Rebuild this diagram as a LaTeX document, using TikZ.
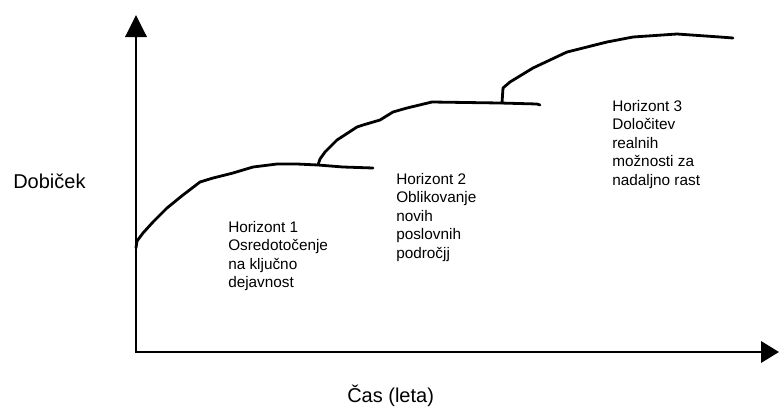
\documentclass[tikz,border=0pt]{standalone}
\usepackage{fontspec}
\setmainfont{Liberation Sans}
\usetikzlibrary{arrows.meta}
\begin{document}
\begin{tikzpicture}[x=0.75pt,y=-0.75pt,
  axis/.style={line width=1.9pt},
  growth/.style={line width=2.1pt,line join=round,line cap=round},
  label/.style={inner sep=0pt,anchor=north west,align=left,
    font=\fontsize{11.5}{13.9}\selectfont},
  axislabel/.style={inner sep=0pt,anchor=base west,
    font=\fontsize{15}{18}\selectfont}]
\useasboundingbox (0,0) rectangle (779,408);

% axes
\coordinate (origin) at (136,352);
\coordinate (ytip) at (136,15);
\coordinate (xtip) at (779,352);
\draw[axis,-{Triangle[length=16.5pt,width=16pt]}] (origin) -- (ytip);
\draw[axis,-{Triangle[length=13.5pt,width=16pt]}] ([xshift=-0.7pt]origin) -- (xtip);

\node[axislabel] (ylab) at (13,188) {Dobiček};
\node[axislabel] (xlab) at (347,402) {Čas (leta)};

% first horizon
\draw[growth] (136,248) -- (137,241) -- (143,233) -- (153,222) -- (167,208)
  -- (183,195) -- (200,182) -- (213,178) -- (233,173) -- (253,167)
  -- (277,164) -- (297,164) -- (318,165) -- (343,167) -- (373,168);
% second horizon
\draw[growth] (318,165) -- (320,159) -- (325,152) -- (337,140) -- (357,127)
  -- (363,125) -- (380,120) -- (393,112) -- (407,108) -- (432,102)
  -- (500,103) -- (537,104) -- (540,105);
% third horizon
\draw[growth] (502,103) -- (503,88) -- (510,82) -- (533,68) -- (567,52)
  -- (607,42) -- (633,37) -- (677,34) -- (720,37) -- (733,38);

\node[label] (h1) at (228,221) {Horizont 1\\Osredotočenje\\na ključno\\dejavnost};
\node[label] (h2) at (396,173) {Horizont 2\\Oblikovanje\\novih\\poslovnih\\področjj};
\node[label] (h3) at (612,100) {Horizont 3\\Določitev\\realnih\\možnosti za\\nadaljno rast};
\end{tikzpicture}
\end{document}
